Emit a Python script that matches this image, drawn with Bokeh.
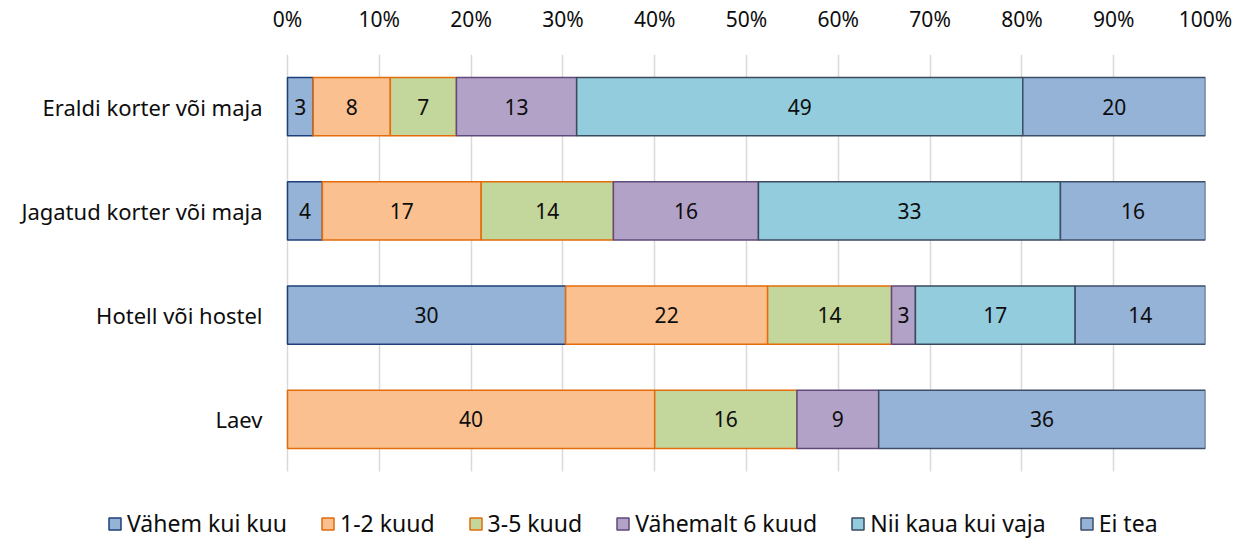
from bokeh.plotting import figure
from bokeh.models import ColumnDataSource, Legend, LegendItem, FixedTicker, CustomJSTickFormatter, Range1d
from bokeh.core.properties import value
from bokeh.embed import file_html
from bokeh.resources import INLINE

categories = ["Eraldi korter või maja", "Jagatud korter või maja", "Hotell või hostel", "Laev"]
series_names = ["Vähem kui kuu", "1-2 kuud", "3-5 kuud", "Vähemalt 6 kuud", "Nii kaua kui vaja", "Ei tea"]
vahem_kui_kuu = [2.8, 3.8, 30.3, 0.0]
kuud_1_2 = [8.4, 17.3, 22.0, 40.0]
kuud_3_5 = [7.2, 14.4, 13.5, 15.5]
vahemalt_6 = [13.1, 15.8, 2.6, 8.9]
nii_kaua = [48.6, 32.9, 17.4, 0.0]
ei_tea = [19.9, 15.8, 14.2, 35.6]
series_values = [vahem_kui_kuu, kuud_1_2, kuud_3_5, vahemalt_6, nii_kaua, ei_tea]
x_ticks = [0, 10, 20, 30, 40, 50, 60, 70, 80, 90, 100]

fills = ["#95B3D7", "#FAC090", "#C3D69B", "#B3A2C7", "#93CDDD", "#95B3D7"]
borders = ["#1F3F7A", "#E46C0A", "#E46C0A", "#604A7B", "#3A4A5C", "#3F4E68"]

FONT = "Noto Sans"
FS = "21px"
FS_CAT = "22px"
FS_LEG = "23px"
TXT = "#0d0d0d"

W, H = 1245, 540
LEFT_PX, RIGHT_PX, TOP_PX, PLOT_BOTTOM_PX = 287, 1205, 54, 471
n = len(categories)
px_per_x = (RIGHT_PX - LEFT_PX) / 100.0
px_per_y = (PLOT_BOTTOM_PX - TOP_PX) / n
x_start = -LEFT_PX / px_per_x
y_end = n - 0.5
y_start = -0.5 - (H - PLOT_BOTTOM_PX) / px_per_y

ypos = [n - 1 - i for i in range(n)]

p = figure(width=W, height=H, output_backend="svg", toolbar_location=None,
           x_range=Range1d(x_start, 100), y_range=Range1d(y_start, y_end),
           x_axis_location="above",
           min_border_left=0, min_border_right=W - RIGHT_PX, min_border_top=TOP_PX, min_border_bottom=0)
p.outline_line_color = None
p.yaxis.visible = False

left = [0.0] * n
items = []
for name, vals, fc, lc in zip(series_names, series_values, fills, borders):
    ys, ls, rs, mids, labs = [], [], [], [], []
    for yy, l, v in zip(ypos, left, vals):
        if v > 0:
            ys.append(yy); ls.append(l); rs.append(l + v); mids.append(l + v / 2)
            labs.append(str(int(v + 0.5)))
    src = ColumnDataSource(dict(y=ys, left=ls, right=rs, mid=mids, lab=labs))
    r = p.hbar(y="y", left="left", right="right", height=0.56, source=src,
               fill_color=fc, line_color=lc, line_width=1.5)
    p.text(x="mid", y="y", text="lab", source=src, text_align="center", text_baseline="middle",
           text_font=value(FONT), text_font_size=FS, text_color=TXT)
    items.append(LegendItem(label=name, renderers=[r]))
    left = [a + b for a, b in zip(left, vals)]

# category labels
cat_src = ColumnDataSource(dict(x=[0] * n, y=ypos, t=categories))
p.text(x="x", y="y", text="t", source=cat_src, x_offset=-25, text_align="right", text_baseline="middle",
       text_font=value(FONT), text_font_size=FS_CAT, text_color=TXT)

p.xaxis.ticker = FixedTicker(ticks=x_ticks)
p.xaxis.formatter = CustomJSTickFormatter(code="return tick + '%';")
p.xaxis.axis_line_color = None
p.xaxis.major_tick_line_color = None
p.xaxis.minor_tick_line_color = None
p.xaxis.major_label_text_font = FONT
p.xaxis.major_label_text_font_size = FS
p.xaxis.major_label_text_color = TXT
p.xaxis.major_label_standoff = 16

p.xgrid.ticker = FixedTicker(ticks=x_ticks)
p.xgrid.grid_line_color = "#D9D9D9"
p.xgrid.grid_line_width = 1.5
p.xgrid.cross_bounds = (-0.5, y_end)
p.ygrid.grid_line_color = None

legend = Legend(items=items, orientation="horizontal", location=(107, 1), margin=0,
                glyph_width=15, glyph_height=15, label_standoff=5, spacing=33, padding=0,
                border_line_color=None, background_fill_alpha=0,
                label_text_font=FONT, label_text_font_size=FS_LEG, label_text_color=TXT)
p.add_layout(legend, "center")

open("out.html", "w").write(file_html(p, INLINE))
